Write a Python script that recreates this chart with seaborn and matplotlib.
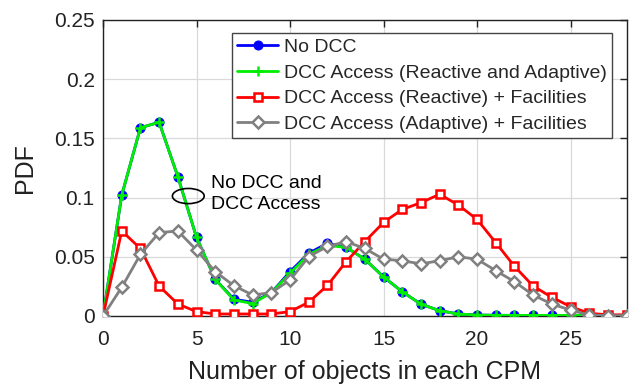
import numpy as np
import pandas as pd
import matplotlib
matplotlib.use('Agg')
import matplotlib.pyplot as plt
import seaborn as sns
from matplotlib.patches import Ellipse

# ========================================
# Data
# ========================================
objects = list(range(0, 29))

no_dcc = [0.0, 0.102, 0.159, 0.1636, 0.1177, 0.0664, 0.031, 0.0141, 0.0116, 0.0197,
          0.0374, 0.053, 0.0614, 0.058, 0.048, 0.033, 0.0205, 0.010, 0.0045, 0.0017,
          0.0008, 0.0006, 0.0005, 0.0005, 0.0005, 0.0005, 0.0004, 0.0004, 0.0004]

dcc_reactive_adaptive = [0.0, 0.102, 0.159, 0.1636, 0.1177, 0.0664, 0.031, 0.0135, 0.0105, 0.0197,
                         0.036, 0.052, 0.0595, 0.058, 0.048, 0.033, 0.0205, 0.010, 0.0045, 0.0017,
                         0.0008, 0.0006, 0.0005, 0.0005, 0.0005, 0.0005, 0.0004, 0.0004, 0.0004]

dcc_reactive_fac = [0.0, 0.0718, 0.057, 0.0253, 0.0101, 0.0037, 0.0017, 0.0017, 0.0017, 0.0017,
                    0.0037, 0.0116, 0.0258, 0.0459, 0.0628, 0.079, 0.090, 0.0957, 0.1028, 0.0937,
                    0.0816, 0.062, 0.042, 0.0253, 0.0158, 0.0079, 0.0023, 0.001, 0.001]

dcc_adaptive_fac = [0.0, 0.0242, 0.052, 0.0704, 0.0718, 0.0557, 0.0374, 0.0256, 0.0177, 0.0197,
                    0.0304, 0.050, 0.0588, 0.0628, 0.057, 0.048, 0.0467, 0.044, 0.0467, 0.050,
                    0.048, 0.0383, 0.029, 0.0177, 0.0101, 0.005, 0.0008, 0.0003, 0.0003]

labels = ['No DCC',
          'DCC Access (Reactive and Adaptive)',
          'DCC Access (Reactive) + Facilities',
          'DCC Access (Adaptive) + Facilities']

x_ticks = [0, 5, 10, 15, 20, 25]
y_ticks = [0, 0.05, 0.1, 0.15, 0.2, 0.25]
y_tick_labels = ['0', '0.05', '0.1', '0.15', '0.2', '0.25']

df = pd.DataFrame({
    'objects': objects,
    'no_dcc': no_dcc,
    'dcc_ra': dcc_reactive_adaptive,
    'dcc_rf': dcc_reactive_fac,
    'dcc_af': dcc_adaptive_fac,
})

# ========================================
# Plot
# ========================================
sns.set_theme(style='white')
plt.rcParams['font.family'] = ['Liberation Sans', 'DejaVu Sans']

fig = plt.figure(figsize=(6.29, 3.88), dpi=100)
ax = fig.add_axes([0.1638, 0.1856, 0.8324, 0.7629])

sns.lineplot(data=df, x='objects', y='no_dcc', ax=ax, color='#0000ff', lw=2,
             marker='o', ms=6.5, mfc='#0000ff', mec='#0000ff', label=labels[0], zorder=2)
sns.lineplot(data=df, x='objects', y='dcc_ra', ax=ax, color='#00ee00', lw=2,
             marker='+', ms=7, mew=1.8, mec='#00ee00', label=labels[1], zorder=3)
sns.lineplot(data=df, x='objects', y='dcc_rf', ax=ax, color='#ff0000', lw=2,
             marker='s', ms=5.5, mfc='white', mec='#ff0000', mew=1.8, label=labels[2], zorder=4)
sns.lineplot(data=df, x='objects', y='dcc_af', ax=ax, color='#808080', lw=2,
             marker='D', ms=6, mfc='white', mec='#808080', mew=1.8, label=labels[3], zorder=5)

ax.set_xlim(0, 28)
ax.set_ylim(0, 0.25)
ax.set_xticks(x_ticks)
ax.set_yticks(y_ticks)
ax.set_yticklabels(y_tick_labels)
ax.tick_params(direction='in', length=5, width=1, top=True, right=True,
               labelsize=15, colors='#222222', labelcolor='#222222')
ax.tick_params(axis='x', pad=10)
ax.tick_params(axis='y', pad=6)
ax.grid(True, color='#d9d9d9', lw=0.9)
ax.set_axisbelow(True)
for s in ax.spines.values():
    s.set_color('#222222')
    s.set_linewidth(1)

ax.set_xlabel('Number of objects in each CPM', fontsize=18, color='#222222', labelpad=8)
ax.set_ylabel('PDF', fontsize=18, color='#222222', labelpad=12)

# Annotation with ellipse
ax.add_patch(Ellipse((4.56, 0.1013), 1.7, 0.0128, fill=False, ec='black', lw=1.2, zorder=6))
ax.text(5.8, 0.103, 'No DCC and\nDCC Access', fontsize=14, ha='left', va='center',
        color='black', linespacing=1.3, zorder=6)

leg = ax.legend(loc='upper right', bbox_to_anchor=(0.9716, 0.955), fontsize=14,
                frameon=True, fancybox=False, framealpha=1, edgecolor='#444444',
                handlelength=2.1, handletextpad=0.3, labelspacing=0.42,
                borderpad=0.25, borderaxespad=0)
leg.get_frame().set_linewidth(1)

fig.savefig('out.png', dpi=100)
